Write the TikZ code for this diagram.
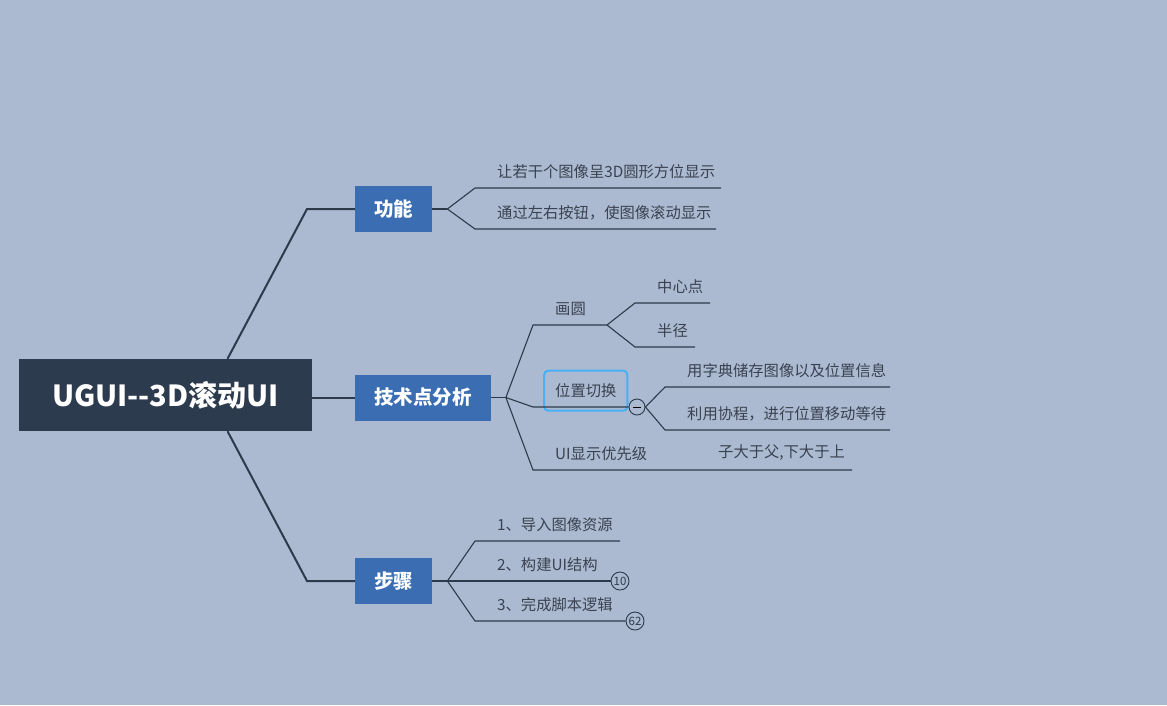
\documentclass[tikz,border=0pt]{standalone}
\usepackage{fontspec}
\setmainfont{Noto Sans CJK SC}
\usepackage{tikz}
\usetikzlibrary{positioning,calc}
\definecolor{bg}{HTML}{ABBAD1}
\definecolor{navy}{HTML}{2D3B4F}
\definecolor{topicblue}{HTML}{3A6DB1}
\definecolor{ink}{HTML}{2E3A4B}
\definecolor{leaftext}{HTML}{3A4150}
\definecolor{pickblue}{HTML}{48B0F5}
\tikzstyle{root} = [fill=navy, text=white, font=\fontsize{29}{29}\selectfont\bfseries, minimum width=293pt, minimum height=72pt]
\tikzstyle{topic} = [fill=topicblue, text=white, font=\fontsize{19.5}{19.5}\selectfont\bfseries, inner xsep=19pt, minimum height=46pt, anchor=west]
\tikzstyle{leaf} = [anchor=south west, inner xsep=22pt, inner ysep=9pt, text=leaftext, font=\fontsize{15.3}{15.3}\selectfont]
\tikzstyle{trunk} = [draw=ink, line width=2pt]
\tikzstyle{twig} = [draw=ink, line width=1.1pt]
\tikzstyle{picked} = [draw=pickblue, line width=2pt, rounded corners=4pt, inner xsep=11pt, minimum height=40pt, font=\fontsize{15.3}{15.3}\selectfont]
\tikzstyle{fold} = [circle, draw=ink, fill=bg, line width=0.9pt, minimum size=16pt, inner sep=0pt]
\tikzstyle{badge} = [circle, draw=ink, fill=bg, line width=0.9pt, minimum size=18pt, inner sep=0pt, text=ink, font=\fontsize{11.5}{11.5}\selectfont]
\begin{document}
\begin{tikzpicture}[x=1pt, y=-1pt]
        \fill[bg] (0,0) rectangle (1167,705);
        \useasboundingbox (0,0) rectangle (1167,705);
        \node[root] (root) at (165.5,395) {UGUI-{}-3D滚动UI};
        \node[topic] (fn) at (355,209) {功能};
        \node[topic] (tech) at (355,397.5) {技术点分析};
        \node[topic] (steps) at (355,581) {步骤};
        \draw[trunk] ([xshift=62pt]root.north) -- ([xshift=-48pt]fn.west) -- (fn.west);
        \draw[trunk] (root.east |- tech.west) -- (tech.west);
        \draw[trunk] ([xshift=62pt]root.south) -- ([xshift=-48pt]steps.west) -- (steps.west);

        \coordinate (fnf) at ([xshift=15pt]fn.east);
        \node[leaf] (fn1) at (475,188) {让若干个图像呈3D圆形方位显示};
        \node[leaf] (fn2) at (475,229) {通过左右按钮，使图像滚动显示};
        \coordinate (fn1e) at (721,188);
        \coordinate (fn2e) at (716,229);
        \draw[twig] (fn.east) -- (fnf);
        \draw[twig] (fnf) -- (fn1.south west) -- (fn1e);
        \draw[twig] (fnf) -- (fn2.south west) -- (fn2e);

        \coordinate (tcf) at ([xshift=15pt]tech.east);
        \node[leaf] (tc1) at (533,325) {画圆};
        \coordinate (tc1e) at (607,325);
        \node[leaf] (tc11) at (635,303) {中心点};
        \node[leaf] (tc12) at (635,347) {半径};
        \coordinate (tc11e) at (710,303);
        \coordinate (tc12e) at (695,347);
        \node[leaf] (tc2) at (533,407) {位置切换};
        \node[picked] (tc2box) at (tc2.center) {\phantom{位置切换}};
        \node[fold] (tcm) at (637,407) {\rule[-0.45pt]{8pt}{0.9pt}};
        \node[leaf] (tc21) at (665,387) {用字典储存图像以及位置信息};
        \node[leaf] (tc22) at (665,430) {利用协程，进行位置移动等待};
        \coordinate (tc21e) at (890,387);
        \coordinate (tc22e) at (890,430);
        \node[leaf] (tc3) at (533,470) {UI显示优先级};
        \node[leaf] (tc31) at (696,470) {子大于父,下大于上};
        \coordinate (tc31e) at (852,470);
        \draw[twig] (tech.east) -- (tcf);
        \draw[twig] (tcf) -- (tc1.south west) -- (tc1e);
        \draw[twig] (tc1e) -- (tc11.south west) -- (tc11e);
        \draw[twig] (tc1e) -- (tc12.south west) -- (tc12e);
        \draw[twig] (tcf) -- (tc2.south west) -- (tcm.west);
        \draw[twig] (tcm.east) -- (tc21.south west) -- (tc21e);
        \draw[twig] (tcm.east) -- (tc22.south west) -- (tc22e);
        \draw[twig] (tcf) -- (tc3.south west) -- (tc31.south west) -- (tc31e);

        \coordinate (stf) at ([xshift=15pt]steps.east);
        \node[leaf] (st1) at (475,541) {1、导入图像资源};
        \node[leaf] (st2) at (475,581) {2、构建UI结构};
        \node[leaf] (st3) at (475,621) {3、完成脚本逻辑};
        \coordinate (st1e) at (620,541);
        \node[badge] (st2n) at (620,581) {10};
        \node[badge] (st3n) at (635,621) {62};
        \draw[twig] (steps.east) -- (stf);
        \draw[twig] (stf) -- (st1.south west) -- (st1e);
        \draw[twig] (stf) -- (st2.south west) -- (st2n.west);
        \draw[twig] (stf) -- (st3.south west) -- (st3n.west);
\end{tikzpicture}
\end{document}
